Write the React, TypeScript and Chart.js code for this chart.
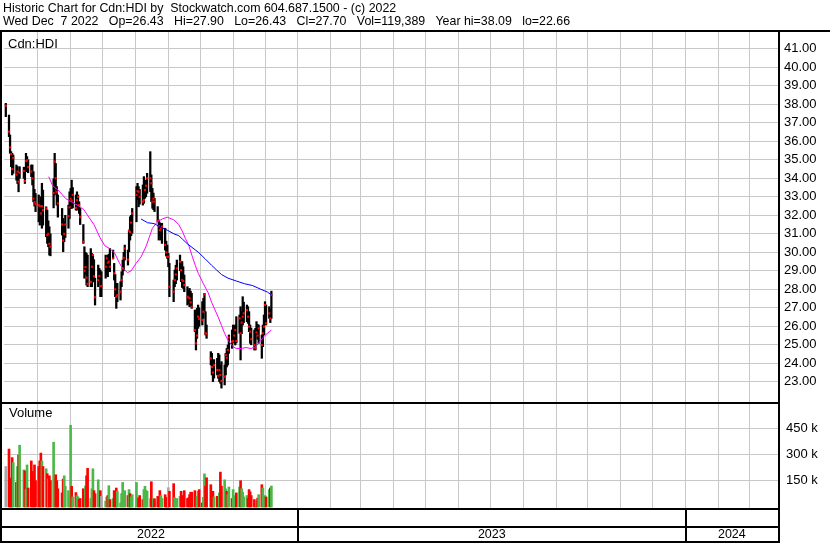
import React, { useEffect, useRef } from 'react';
import { Chart, registerables } from 'chart.js';

Chart.register(...registerables);

const FONT = '"Liberation Sans", Arial, sans-serif';

const headerTitle = 'Historic Chart for Cdn:HDI by  Stockwatch.com 604.687.1500 - (c) 2022';
const headerQuote = 'Wed Dec  7 2022   Op=26.43   Hi=27.90   Lo=26.43   Cl=27.70   Vol=119,389   Year hi=38.09   lo=22.66';
const symbolLabel = 'Cdn:HDI';
const volumeLabel = 'Volume';

const axisStart = '2022-04-01';
const gridFirstMonth = '2022-05-01';
const gridLastMonth = '2024-03-01';
const dataStart = '2022-04-01';
const dataEnd = '2022-12-07';
const marketHolidays = ['2022-04-15', '2022-05-23', '2022-07-01', '2022-08-01', '2022-09-05', '2022-10-10'];
const yearLabels = ['2022', '2023', '2024'];
const yearStarts = ['2023-01-01', '2024-01-01'];
const priceTicks = [23, 24, 25, 26, 27, 28, 29, 30, 31, 32, 33, 34, 35, 36, 37, 38, 39, 40, 41];
const volumeTicksK = [150, 300, 450];

const highs = [
  // Apr
  38.05, 37.42, 36.34, 35.44, 35.35, 35.26, 34.72, 34.63, 34.27, 34.63, 34.6, 34.36, 35.35, 35.17, 35.0, 34.72, 34.72, 34.36, 33.4, 33.18,
  // May
  33.1, 32.55, 33.0, 33.73, 33.36, 32.46, 32.28, 31.7, 31.38, 31.0, 33.97, 35.35, 34.8, 33.55, 33.1, 32.37, 31.83, 31.65, 32.0, 32.55, 33.27,
  // Jun
  33.45, 33.9, 33.5, 33.1, 33.27, 33.1, 32.73, 32.37, 31.5, 30.3, 30.0, 29.94, 29.85, 30.2, 29.94, 29.85, 29.6, 28.6, 29.31, 29.13, 29.04, 28.95,
  // Jul
  29.85, 29.67, 29.85, 29.9, 30.21, 30.12, 29.4, 28.8, 28.32, 28.32, 28.41, 28.95, 29.58, 30.0, 30.39, 30.12, 31.2, 31.92, 32.0, 32.37,
  // Aug
  33.55, 33.73, 33.55, 33.4, 33.64, 34.09, 33.73, 33.9, 34.27, 35.44, 34.18, 33.46, 33.2, 32.92, 32.47, 31.75, 31.6, 31.48, 31.57, 31.3, 30.6, 30.39,
  // Sep
  29.94, 29.4, 28.5, 29.04, 29.3, 29.58, 29.85, 29.4, 29.5, 29.22, 28.77, 28.14, 27.96, 28.05, 27.9, 27.78, 26.88, 26.16, 26.97, 27.15, 27.0,
  // Oct
  27.33, 27.51, 27.78, 26.79, 26.07, 24.63, 24.54, 24.09, 24.2, 24.27, 24.54, 24.45, 23.91, 24.09, 23.91, 24.54, 24.8, 24.99, 25.53, 25.8,
  // Nov
  26.07, 26.0, 26.07, 26.52, 26.61, 27.06, 26.8, 27.6, 27.3, 27.15, 27.06, 26.79, 26.07, 25.9, 25.8, 25.89, 26.25, 26.1, 26.07, 25.53, 26.07, 26.61,
  // Dec
  27.33, 27.15, 27.06, 26.9, 27.9,
];

const lows = [
  37.33, 36.25, 35.35, 34.63, 34.18, 34.27, 33.9, 33.72, 33.27, 34.0, 34.0, 33.72, 34.36, 34.36, 34.3, 34.09, 33.64, 32.73, 32.5, 32.2,
  31.65, 31.47, 31.8, 31.3, 31.47, 30.84, 30.48, 30.3, 29.85, 29.81, 32.4, 33.1, 33.5, 32.55, 31.9, 30.93, 30.03, 30.57, 30.8, 31.3, 31.83,
  32.37, 32.37, 32.4, 32.28, 32.28, 32.46, 32.1, 31.5, 30.48, 28.6, 28.8, 28.23, 28.14, 28.14, 28.14, 28.86, 28.4, 27.15, 28.14, 28.41, 27.6, 27.6,
  28.6, 28.77, 28.68, 29.0, 28.95, 29.67, 28.5, 27.6, 26.97, 27.33, 27.42, 28.14, 28.77, 29.0, 29.58, 29.31, 30.03, 30.66, 30.9, 31.03,
  31.65, 32.83, 32.46, 32.6, 32.55, 32.65, 32.92, 33.0, 33.19, 33.28, 32.74, 32.38, 32.3, 32.2, 31.66, 30.66, 30.9, 30.66, 30.48, 30.12, 29.8, 29.67,
  29.22, 27.6, 27.33, 28.14, 28.3, 28.5, 29.0, 28.41, 28.1, 28.05, 27.87, 27.15, 27.24, 27.06, 27.1, 26.97, 25.71, 24.72, 25.35, 25.89, 26.0,
  26.07, 26.43, 26.79, 25.53, 25.35, 23.91, 23.37, 23.01, 23.2, 23.37, 23.19, 23.01, 22.92, 22.66, 22.83, 23.37, 23.8, 23.91, 24.54, 24.81,
  25.17, 25.1, 24.99, 25.1, 25.62, 24.18, 25.6, 26.07, 26.2, 26.25, 26.16, 25.71, 25.08, 25.0, 24.72, 24.72, 25.53, 25.3, 25.08, 24.27, 24.9, 25.53,
  26.16, 26.07, 26.43, 26.2, 26.43,
];

const closes = [
  37.92, 36.52, 35.67, 35.31, 34.5, 35.11, 34.2, 34.36, 33.82, 34.3, 34.4, 33.85, 34.93, 34.97, 34.6, 34.36, 34.0, 32.9, 32.73, 32.6,
  32.55, 32.5, 32.1, 32.5, 32.28, 32.37, 30.93, 31.0, 30.46, 30.3, 33.2, 34.9, 34.0, 33.27, 32.64, 31.5, 30.63, 31.0, 31.5, 31.96, 32.43,
  32.9, 32.8, 33.1, 32.4, 32.82, 33.0, 32.55, 31.9, 30.57, 29.0, 29.2, 28.63, 28.3, 28.4, 29.22, 29.85, 28.7, 27.57, 28.5, 28.72, 28.18, 28.18,
  29.22, 29.67, 29.44, 29.5, 29.22, 29.67, 28.86, 28.0, 27.6, 27.69, 27.87, 28.5, 29.13, 29.7, 30.21, 29.6, 31.17, 31.1, 31.6, 32.1,
  33.1, 33.3, 33.28, 33.0, 32.74, 32.83, 33.37, 33.6, 34.0, 34.0, 33.73, 32.74, 32.9, 32.74, 31.71, 31.42, 31.2, 31.3, 31.39, 30.4, 30.0, 29.76,
  29.76, 28.14, 27.87, 28.5, 28.8, 29.13, 29.5, 29.04, 28.5, 28.45, 28.23, 27.6, 27.55, 27.51, 27.3, 27.06, 25.8, 25.08, 25.5, 26.52, 26.4,
  26.34, 26.79, 27.73, 25.62, 25.6, 24.27, 23.8, 23.5, 23.9, 23.64, 23.33, 23.64, 23.37, 23.04, 23.28, 24.45, 24.3, 24.72, 25.39, 25.17,
  25.2, 25.5, 25.8, 25.2, 26.43, 25.62, 26.2, 26.52, 26.7, 26.88, 26.52, 25.98, 25.71, 25.3, 24.99, 24.81, 25.67, 25.5, 25.89, 24.99, 25.62, 25.98,
  27.15, 26.16, 26.7, 26.43, 27.7,
];

const volumesK = [
  231, 331, 165, 118, 282, 253, 140, 231, 297, 353, 212, 206, 99, 240, 108, 263, 203, 165, 240, 150,
  231, 263, 308, 263, 231, 218, 190, 160, 178, 150, 370, 169, 184, 150, 104, 80, 159, 178, 118, 93, 61,
  467, 118, 57, 82, 65, 57, 42, 48, 104, 65, 120, 178, 221, 48, 104, 218, 93, 76, 155, 80, 93, 60,
  33, 57, 65, 121, 42, 48, 93, 57, 108, 89, 23, 76, 140, 65, 93, 65, 99, 76, 57, 70,
  140, 37, 52, 65, 42, 99, 118, 95, 89, 48, 144, 33, 48, 46, 60, 48, 93, 65, 48, 70, 55, 48,
  110, 89, 133, 53, 42, 48, 60, 89, 42, 65, 93, 48, 52, 70, 84, 84, 93, 52, 60, 89, 99,
  23, 55, 189, 118, 167, 127, 67, 89, 57, 61, 42, 80, 199, 118, 155, 103, 89, 70, 114, 48,
  99, 65, 61, 80, 114, 150, 104, 84, 57, 65, 48, 99, 86, 65, 42, 23, 36, 50, 70, 127, 108, 60,
  65, 57, 99, 108, 119.389,
];

// moving averages: day offset from axisStart, value
const maShortDays = [40.4, 44.1, 50.3, 56.4, 62.6, 68.8, 73.5, 78.7, 83.0, 88.6, 93.2, 97.9, 102.5, 107.1, 109.9, 114.6, 118.0, 122.6, 127.3, 131.9, 135.0, 138.0, 142.7, 147.3, 151.9, 158.2, 162.8, 166.5, 169.0, 172.1, 175.1, 178.3, 181.3, 186.0, 190.6, 193.7, 196.8, 199.9, 203.0, 206.1, 209.2, 213.8, 216.9, 221.5, 226.1, 230.8, 235.4, 240.1, 243.8, 247.9, 250];
const maShortValues = [34.09, 33.6, 33.3, 32.9, 32.7, 32.5, 32.3, 31.85, 31.5, 30.8, 30.35, 30.2, 29.96, 29.4, 29.15, 28.9, 29.0, 29.4, 29.75, 30.3, 30.8, 31.3, 31.65, 31.8, 31.9, 31.75, 31.5, 31.1, 30.75, 30.4, 29.85, 29.3, 28.85, 28.3, 27.8, 27.3, 26.9, 26.5, 26.05, 25.6, 25.25, 24.9, 24.8, 24.8, 24.85, 24.8, 24.9, 25.25, 25.5, 25.7, 25.8];
const maLongDays = [127.3, 133.4, 139.6, 145.8, 151.9, 158.2, 162.8, 166.5, 171.1, 181.3, 187.6, 193.7, 198.3, 203.0, 209.2, 216.9, 224.7, 232.4, 240.1, 246.3, 250];
const maLongValues = [31.8, 31.6, 31.55, 31.35, 31.2, 31.0, 30.9, 30.7, 30.45, 30.0, 29.65, 29.3, 29.05, 28.8, 28.6, 28.45, 28.3, 28.2, 28.0, 27.85, 27.7];

const DAY = 86400000;
const t0 = Date.parse(axisStart + 'T00:00:00Z');
const dayOffset = (iso: string) => Math.round((Date.parse(iso + 'T00:00:00Z') - t0) / DAY);

function tradingDayOffsets(): number[] {
  const out: number[] = [];
  for (let d = dayOffset(dataStart); d <= dayOffset(dataEnd); d++) {
    const dt = new Date(t0 + d * DAY);
    const wd = dt.getUTCDay();
    const iso = dt.toISOString().slice(0, 10);
    if (wd !== 0 && wd !== 6 && !marketHolidays.includes(iso)) out.push(d);
  }
  return out;
}

function monthStartOffsets(): number[] {
  const out: number[] = [];
  let [y, m] = gridFirstMonth.split('-').map(Number);
  const [ly, lm] = gridLastMonth.split('-').map(Number);
  while (y < ly || (y === ly && m <= lm)) {
    out.push(Math.round((Date.UTC(y, m - 1, 1) - t0) / DAY));
    m++;
    if (m > 12) { m = 1; y++; }
  }
  return out;
}

const RED = '#ff0000';
const GREEN = '#4cb848';
const GRAY = '#a8a8a8';
const GRID = '#c8c8c8';

const framePlugin = {
  id: 'stockFrame',
  beforeDraw(chart: any) {
    const { ctx, width, height } = chart;
    ctx.save();
    ctx.fillStyle = '#ffffff';
    ctx.fillRect(0, 0, width, height);
    ctx.restore();
  },
  afterDraw(chart: any) {
    const { ctx, chartArea: ca, scales } = chart;
    const xs = scales.x;
    const yp = scales.y;
    const right = ca.right;
    ctx.save();
    ctx.fillStyle = '#000';
    ctx.fillRect(0, 30, chart.width, 2);
    ctx.fillRect(0, 30, 2, chart.height - 30);
    ctx.fillRect(right, 30, 2, chart.height - 30);
    ctx.fillRect(0, Math.round(yp.bottom), right + 2, 2);
    ctx.fillRect(0, Math.round(ca.bottom) - 1, right + 2, 2);
    ctx.fillRect(0, 526, right + 2, 2);
    ctx.fillRect(0, 541, right + 2, 2);
    const bounds = [ca.left, ...yearStarts.map((s) => xs.getPixelForValue(dayOffset(s))), right];
    yearStarts.forEach((s) => {
      const px = Math.round(xs.getPixelForValue(dayOffset(s)));
      ctx.fillRect(px - 1, ca.bottom, 2, chart.height - ca.bottom);
    });
    ctx.font = `12.5px ${FONT}`;
    ctx.textBaseline = 'middle';
    ctx.textAlign = 'center';
    yearLabels.forEach((lbl, i) => {
      ctx.fillText(lbl, (bounds[i] + bounds[i + 1]) / 2, 535);
    });
    ctx.textAlign = 'left';
    ctx.font = `12.4px ${FONT}`;
    ctx.fillText(headerTitle, 3, 8.5);
    ctx.fillText(headerQuote, 3, 21.5);
    ctx.font = `13px ${FONT}`;
    ctx.fillText(symbolLabel, 8, 44);
    ctx.fillText(volumeLabel, 9, 413);
    ctx.restore();
  },
};

export default function App() {
  const ref = useRef<HTMLCanvasElement>(null);

  useEffect(() => {
    const days = tradingDayOffsets();
    const n = Math.min(days.length, highs.length, lows.length, closes.length, volumesK.length);
    const monthTicks = monthStartOffsets();
    const volColors = closes.slice(0, n).map((c, i) =>
      i === 0 || c === closes[i - 1] ? GRAY : c > closes[i - 1] ? GREEN : RED
    );

    const chart = new Chart(ref.current as HTMLCanvasElement, {
      type: 'bar',
      data: {
        datasets: [
          {
            type: 'line',
            label: 'MA long',
            data: maLongDays.map((d, i) => ({ x: d, y: maLongValues[i] })),
            borderColor: '#0000ff',
            borderWidth: 1,
            pointRadius: 0,
            fill: false,
            yAxisID: 'y',
            order: 1,
          } as any,
          {
            type: 'line',
            label: 'MA short',
            data: maShortDays.map((d, i) => ({ x: d, y: maShortValues[i] })),
            borderColor: '#ff00ff',
            borderWidth: 1,
            pointRadius: 0,
            fill: false,
            yAxisID: 'y',
            order: 2,
          } as any,
          {
            type: 'line',
            label: 'Close',
            data: days.slice(0, n).map((d, i) => ({ x: d, y: closes[i] })),
            showLine: false,
            pointStyle: 'rect',
            pointRadius: 1.5,
            pointBackgroundColor: RED,
            pointBorderWidth: 0,
            borderWidth: 0,
            yAxisID: 'y',
            order: 3,
          } as any,
          {
            type: 'bar',
            label: 'Range',
            data: days.slice(0, n).map((d, i) => ({ x: d, y: [lows[i], highs[i]] })),
            backgroundColor: '#000000',
            borderWidth: 0,
            barThickness: 1.6,
            grouped: false,
            yAxisID: 'y',
            order: 4,
          } as any,
          {
            type: 'bar',
            label: 'Volume',
            data: days.slice(0, n).map((d, i) => ({ x: d, y: volumesK[i] })),
            backgroundColor: volColors,
            borderWidth: 0,
            barThickness: 2,
            grouped: false,
            yAxisID: 'yVol',
            order: 5,
          } as any,
        ],
      },
      options: {
        responsive: false,
        animation: false,
        devicePixelRatio: 1,
        layout: { padding: { top: 31, left: 2, right: 0, bottom: 0 } },
        plugins: { legend: { display: false }, tooltip: { enabled: false }, title: { display: false } },
        events: [],
        scales: {
          x: {
            type: 'linear',
            min: -1.7,
            max: 726.9,
            offset: false,
            grid: { color: GRID, lineWidth: 1, drawTicks: false, offset: false },
            border: { display: false },
            ticks: { display: false },
            afterBuildTicks: (s: any) => {
              s.ticks = monthTicks.map((v) => ({ value: v }));
            },
            afterFit: (s: any) => {
              s.height = 34;
            },
          },
          y: {
            type: 'linear',
            position: 'right',
            stack: 'panels',
            stackWeight: 371,
            min: 21.908,
            max: 41.962,
            grid: { color: GRID, lineWidth: 1, drawTicks: false },
            border: { display: false },
            ticks: {
              color: '#000',
              padding: 6,
              autoSkip: false,
              font: { family: FONT, size: 13 },
              callback: (v: any) => Number(v).toFixed(2),
            },
            afterBuildTicks: (s: any) => {
              s.ticks = priceTicks.map((v) => ({ value: v }));
            },
            afterFit: (s: any) => {
              s.width = 52;
            },
          },
          yVol: {
            type: 'linear',
            position: 'right',
            stack: 'panels',
            stackWeight: 107,
            min: -12,
            max: 600,
            grid: { color: GRID, lineWidth: 1, drawTicks: false },
            border: { display: false },
            ticks: {
              color: '#000',
              padding: 8,
              autoSkip: false,
              font: { family: FONT, size: 13 },
              callback: (v: any) => `${v} k`,
            },
            afterBuildTicks: (s: any) => {
              s.ticks = volumeTicksK.map((v) => ({ value: v }));
            },
            afterFit: (s: any) => {
              s.width = 52;
            },
          },
        },
      } as any,
      plugins: [framePlugin],
    });
    return () => chart.destroy();
  }, []);

  return (
    <div style={{ position: 'absolute', left: 0, top: 0, width: 830, height: 543, background: '#fff' }}>
      <canvas ref={ref} width={830} height={543} style={{ display: 'block', width: 830, height: 543 }} />
    </div>
  );
}
